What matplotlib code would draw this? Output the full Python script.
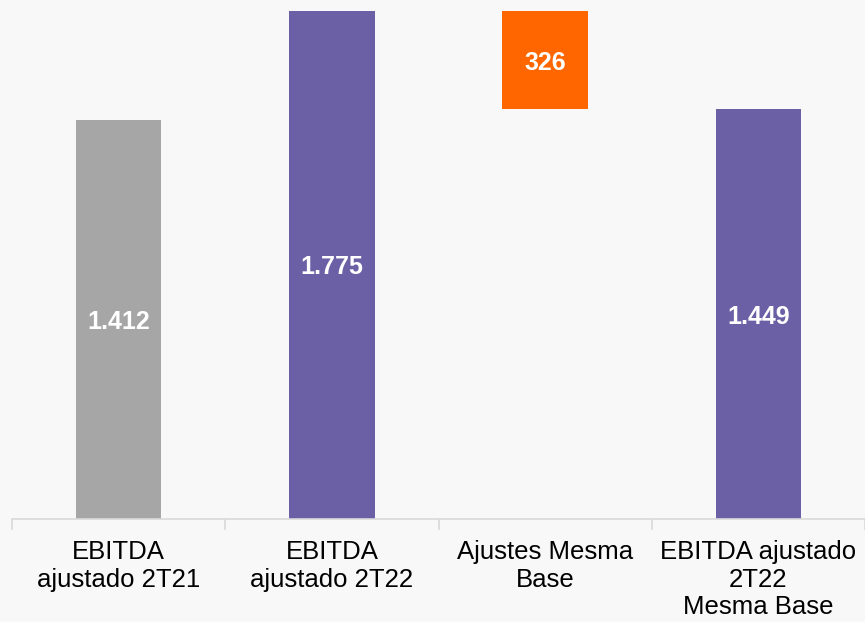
import numpy as np
import matplotlib.pyplot as plt

plt.rcParams['font.family'] = ['Liberation Sans', 'DejaVu Sans']

# Waterfall data (R$ milhões)
categories = ["EBITDA\najustado 2T21", "EBITDA\najustado 2T22",
              "Ajustes Mesma\nBase", "EBITDA ajustado\n2T22\nMesma Base"]
values = [1412, 1775, 326, 1449]
bottoms = [0, 0, 1449, 0]
colors = ["#a6a6a6", "#6b5fa5", "#ff6600", "#6b5fa5"]

y_min, y_max = 90, 1775

def fmt(v):
    return f"{v:,}".replace(",", ".")

fig = plt.figure(figsize=(8.65, 6.22), dpi=100, facecolor="#f8f8f8")
ax = fig.add_axes([12 / 865, 1 - 519 / 622, 1 - 12 / 865, (519 - 11) / 622])
ax.set_facecolor("#f8f8f8")

x = np.arange(len(categories))
ax.bar(x, values, bottom=bottoms, width=0.4, color=colors, zorder=2)

# value labels in the middle of the visible part of each bar
for xi, v, b in zip(x, values, bottoms):
    lo = max(b, y_min)
    ax.text(xi, (lo + b + v) / 2 - 8, fmt(v), ha="center", va="center",
            color="white", fontsize=18, fontweight="bold")

ax.set_xlim(-0.5, 3.5)
ax.set_ylim(y_min, y_max)

for side in ["top", "right", "left"]:
    ax.spines[side].set_visible(False)
ax.spines["bottom"].set_color("#d9d9d9")
ax.spines["bottom"].set_linewidth(1.2)
ax.set_yticks([])

ax.set_xticks(x)
ax.set_xticklabels(categories, fontsize=18.5, color="black", linespacing=1.2)
ax.tick_params(axis="x", which="major", length=0, pad=15)
ax.set_xticks(np.arange(-0.5, 4, 1), minor=True)
ax.tick_params(axis="x", which="minor", length=8, color="#d9d9d9", width=1.2)

fig.savefig("out.png", dpi=100, facecolor=fig.get_facecolor())
